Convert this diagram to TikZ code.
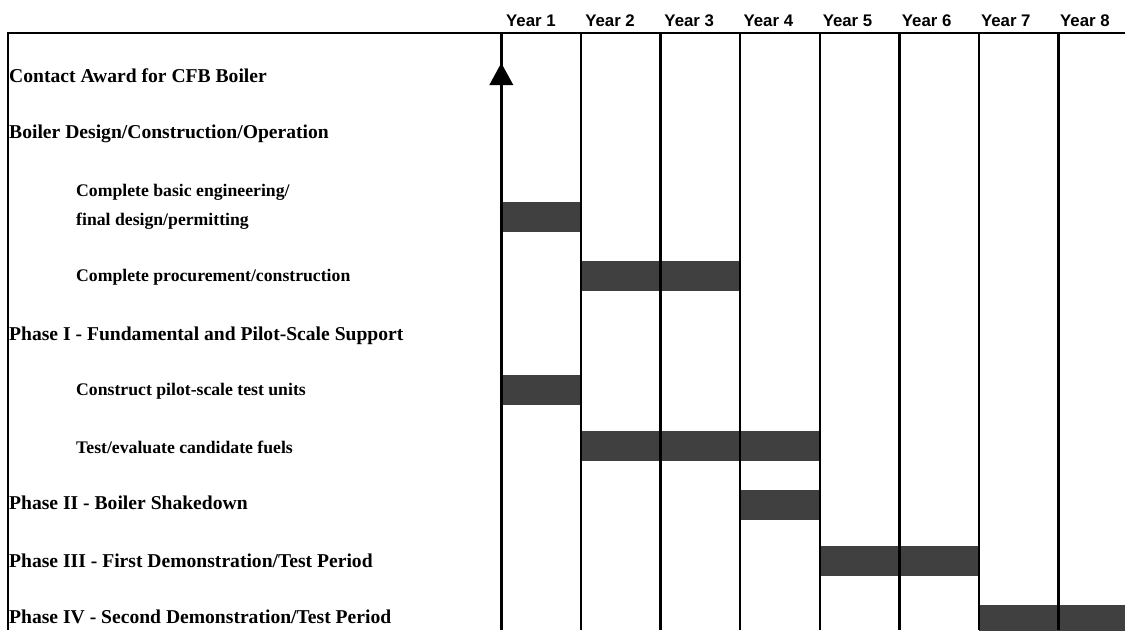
\documentclass[tikz,border=0pt]{standalone}
\usepackage{fontspec}
\setmainfont{Liberation Serif}
\newfontfamily\hfont{Liberation Sans}
\definecolor{barc}{RGB}{64,64,64}
\begin{document}
\begin{tikzpicture}[x=1pt,y=-1pt,
  gridline/.style={line width=2.4pt, black},
  barbox/.style={fill=barc, draw=none},
  mainlbl/.style={anchor=base west, inner sep=0pt, font=\fontsize{19.6}{22}\selectfont\bfseries},
  sublbl/.style={anchor=base west, inner sep=0pt, font=\fontsize{17.7}{20}\selectfont\bfseries},
  yrlbl/.style={anchor=base west, inner sep=0pt, font=\hfont\fontsize{16.8}{19}\selectfont\bfseries}]
\useasboundingbox (0,0) rectangle (1125,630);
% column boundaries
\foreach \i in {0,...,7} \coordinate (c\i) at ({501.3+79.6*\i},0);
% bars
\fill[barc] (501.3,202) rectangle (580.9,231.7);
\fill[barc] (580.9,261) rectangle (740.1,290.7);
\fill[barc] (501.3,375) rectangle (580.9,404.7);
\fill[barc] (580.9,431) rectangle (819.7,460.7);
\fill[barc] (740.1,490) rectangle (819.7,519.7);
\fill[barc] (819.7,546) rectangle (978.9,575.7);
\fill[barc] (978.9,605) rectangle (1125,635);
% frame
\draw[gridline, line join=miter] (8,630) -- (8,33) -- (1125,33);
\foreach \i in {0,...,7} \draw[gridline] ({501.3+79.6*\i},33) -- ({501.3+79.6*\i},630);
% milestone
\fill[black] (501.3,63) -- (489.3,85) -- (513.3,85) -- cycle;
% year labels
\foreach \i in {1,...,8} \node[yrlbl] (y\i) at ({506+79.14*(\i-1)},26) {Year \i};
% row labels
\node[mainlbl] (r1) at (9,82) {Contact Award for CFB Boiler};
\node[mainlbl] (r2) at (9,138.5) {Boiler Design/Construction/Operation};
\node[sublbl] (r3) at (76,196.5) {Complete basic engineering/};
\node[sublbl] (r4) at (76,225) {final design/permitting};
\node[sublbl] (r5) at (76,281) {Complete procurement/construction};
\node[mainlbl] (r6) at (9,340) {Phase I - Fundamental and Pilot-Scale Support};
\node[sublbl] (r7) at (76,395) {Construct pilot-scale test units};
\node[sublbl] (r8) at (76,453) {Test/evaluate candidate fuels};
\node[mainlbl] (r9) at (9,509.5) {Phase II - Boiler Shakedown};
\node[mainlbl] (r10) at (9,567.5) {Phase III - First Demonstration/Test Period};
\node[mainlbl] (r11) at (9,623) {Phase IV - Second Demonstration/Test Period};
\end{tikzpicture}
\end{document}
